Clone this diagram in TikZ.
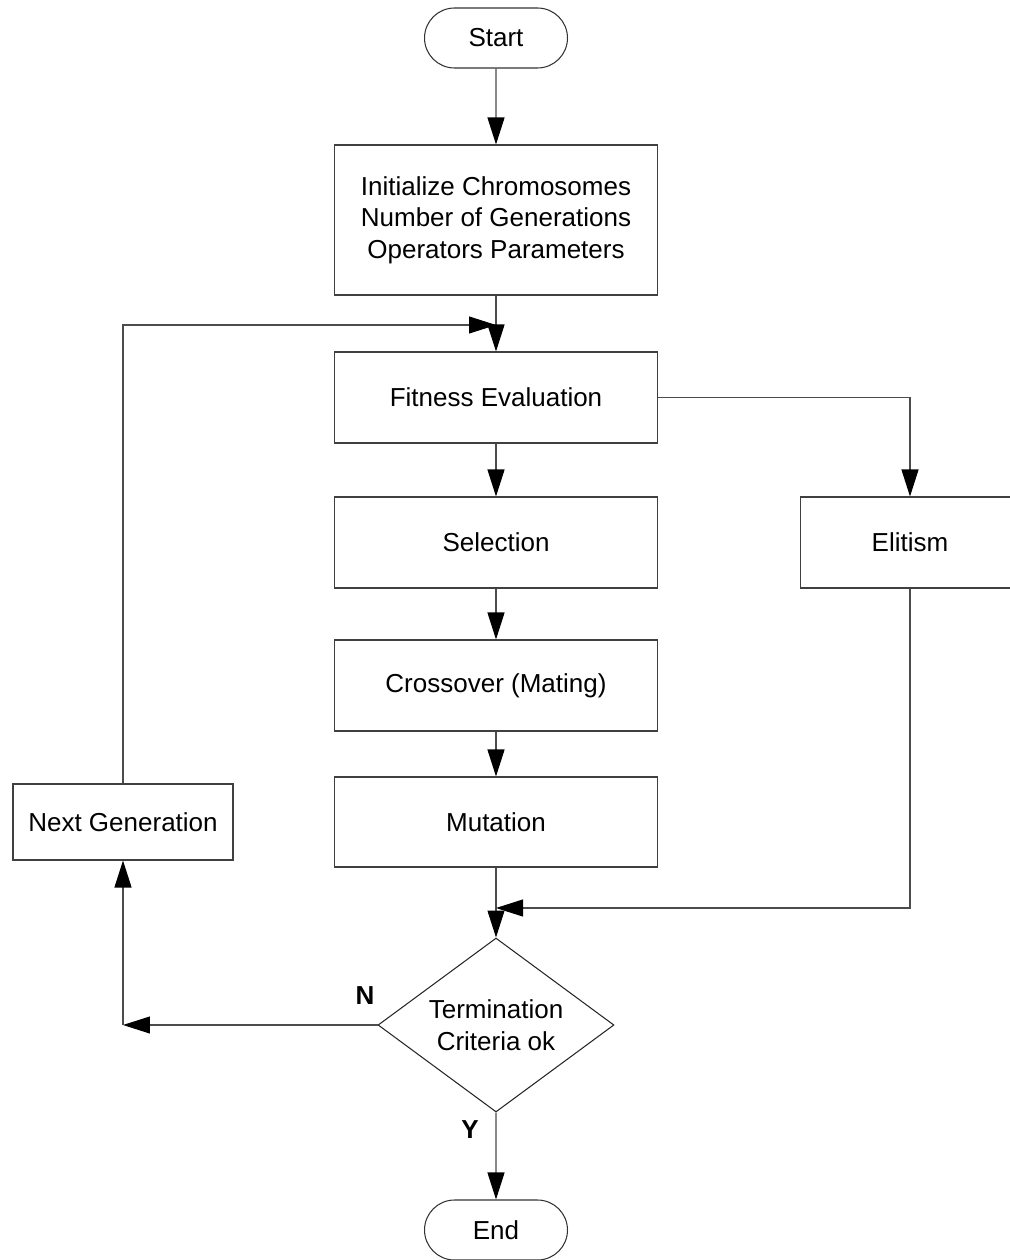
\documentclass[tikz,border=0pt]{standalone}
\usepackage{fontspec}
\setmainfont{Liberation Sans}
\usetikzlibrary{arrows.meta, shapes.geometric, shapes.misc}

\tikzset{
  every node/.style={font=\fontsize{14.8}{17.9}\selectfont, align=center},
  block/.style={draw=black!75, line width=0.6pt, rectangle, inner sep=0pt},
  terminal/.style={draw=black!80, line width=0.6pt, rounded rectangle,
    minimum width=2.86cm, minimum height=1.2cm, inner sep=0pt},
  decision/.style={draw=black!85, line width=0.6pt, diamond, inner sep=0pt,
    minimum width=4.72cm, minimum height=3.48cm, shape aspect=1.356},
  flow/.style={draw=black!70, line width=0.6pt,
    -{Triangle[length=0.54cm, width=0.34cm, color=black]}},
  branch/.style={font=\fontsize{14.8}{17.9}\selectfont\bfseries}
}

\begin{document}
\begin{tikzpicture}[x=0.02cm, y=-0.02cm]
  \useasboundingbox (0,0) rectangle (1010,1260);

  % main column
  \node[terminal] (start) at (496,38) {Start};
  \node[block, minimum width=6.46cm, minimum height=3cm] (init) at (496,220)
    {Initialize Chromosomes\\Number of Generations\\Operators Parameters};
  \node[block, minimum width=6.46cm, minimum height=1.82cm] (fit) at (496,397.5) {Fitness Evaluation};
  \node[block, minimum width=6.46cm, minimum height=1.82cm] (sel) at (496,542.5) {Selection};
  \node[block, minimum width=6.46cm, minimum height=1.82cm] (cross) at (496,685.5) {Crossover (Mating)};
  \node[block, minimum width=6.46cm, minimum height=1.8cm] (mut) at (496,822) {Mutation};
  \node[decision] (term) at (496,1025) {Termination\\Criteria ok};
  \node[terminal] (end) at (496,1230) {End};

  % side boxes
  \node[block, minimum width=4.4cm, minimum height=1.82cm] (elit) at (910,542.5) {Elitism};
  \node[block, minimum width=4.4cm, minimum height=1.52cm] (next) at (123,822) {Next Generation};

  % helper points
  \coordinate (join) at (496,325);
  \coordinate (merge) at (496,908);
  \coordinate (back) at (123,1025);

  \draw[flow] (start) -- (init);
  \draw[flow] (init) -- (fit);
  \draw[flow] (fit) -- (sel);
  \draw[flow] (sel) -- (cross);
  \draw[flow] (cross) -- (mut);
  \draw[flow] (mut) -- (term);
  \draw[flow] (term) -- (end);

  \draw[flow] (fit.east) -| (elit.north);
  \draw[flow] (elit.south) |- (merge);
  \draw[flow] (next.north) |- (join);
  \draw[flow] (term.west) -- (back);
  \draw[flow] (back) -- (next.south);

  \node[branch] (nlabel) at (365,996) {N};
  \node[branch] (ylabel) at (470,1130) {Y};
\end{tikzpicture}
\end{document}
